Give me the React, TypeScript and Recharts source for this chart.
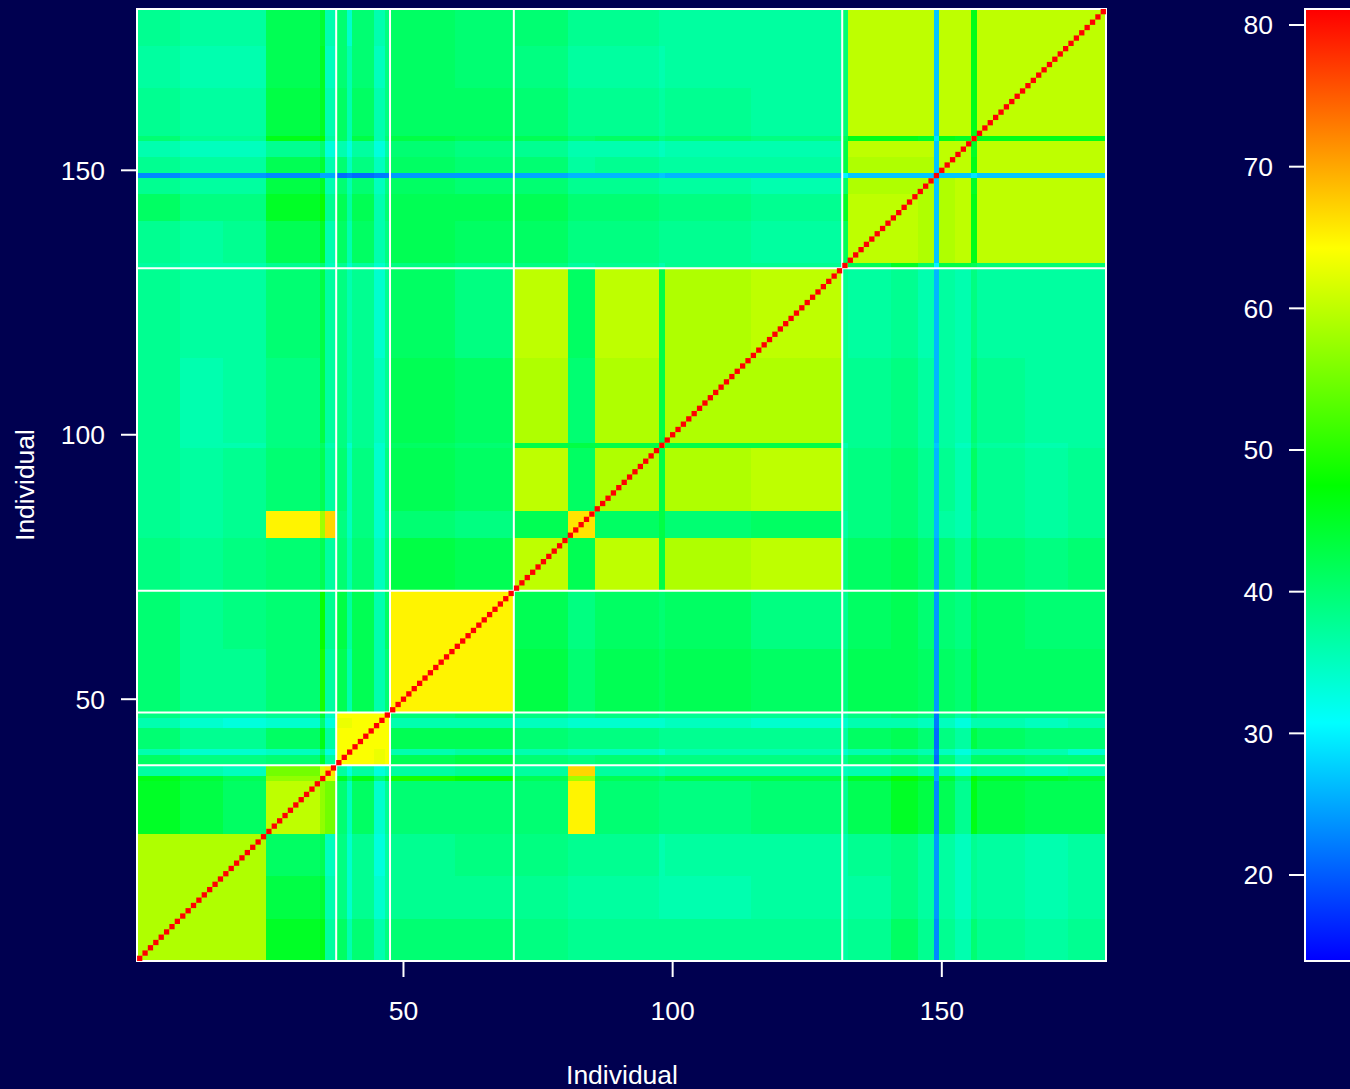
import {
  ReferenceArea,
  ReferenceLine,
  Scatter,
  ScatterChart,
  XAxis,
  YAxis,
  ZAxis,
} from 'recharts';

const BACKGROUND = '#000050';
const FONT = '"Liberation Sans", Arial, sans-serif';

// last individual of each block, split where a stripe is visible in the picture
const blockEnds = [8, 16, 24, 34, 35, 37, 39, 40, 44, 46, 47, 59, 70, 80, 85, 97, 98, 114, 131, 132, 140, 145, 148, 149, 152, 155, 156, 165, 173, 180];

// estimated block values, lower triangle (the matrix is symmetric)
const blockValues = [
  [59],
  [59, 59],
  [59, 59, 59],
  [45, 43, 41, 60],
  [46, 44, 42, 57, 60],
  [37, 36, 35, 55, 62, 66],
  [41, 39, 39, 40, 45, 37, 64],
  [36, 34, 34, 35, 40, 33, 64, 64],
  [40, 38, 38, 41, 46, 37, 64, 64, 64],
  [36, 34, 33, 34, 40, 33, 63, 63, 64, 64],
  [39, 37, 37, 38, 44, 35, 64, 64, 64, 64, 64],
  [40, 38, 38, 40, 49, 37, 42, 36, 42, 36, 40, 65],
  [40, 38, 39, 40, 48, 38, 43, 37, 42, 36, 41, 65, 65],
  [39, 38, 39, 40, 42, 37, 40, 36, 40, 35, 39, 43, 42, 60],
  [38, 37, 38, 65, 58, 67, 39, 35, 39, 34, 38, 40, 39, 42, 66],
  [38, 37, 38, 40, 42, 37, 40, 35, 39, 34, 39, 42, 41, 60, 41, 59],
  [38, 36, 36, 39, 41, 36, 39, 34, 38, 34, 38, 41, 40, 43, 43, 43, 60],
  [38, 36, 37, 39, 43, 37, 39, 36, 38, 35, 38, 42, 41, 59, 40, 59, 43, 59],
  [38, 37, 37, 40, 43, 37, 39, 36, 38, 34, 38, 41, 39, 60, 41, 60, 43, 59, 60],
  [37, 36, 36, 38, 40, 35, 38, 34, 37, 34, 37, 39, 38, 39, 37, 38, 36, 38, 38, 60],
  [38, 37, 38, 42, 45, 36, 41, 36, 41, 36, 39, 42, 41, 41, 39, 39, 38, 38, 37, 42, 60],
  [41, 39, 39, 45, 48, 38, 42, 37, 42, 36, 40, 42, 42, 42, 40, 40, 39, 39, 38, 45, 60, 60],
  [38, 37, 37, 43, 45, 36, 40, 36, 40, 35, 39, 41, 40, 40, 38, 38, 37, 37, 36, 41, 59, 59, 59],
  [23, 24, 24, 23, 25, 25, 21, 22, 21, 22, 22, 24, 24, 25, 26, 26, 27, 26, 26, 30, 27, 27, 27, 28],
  [38, 37, 37, 42, 44, 36, 40, 35, 39, 35, 39, 41, 40, 40, 37, 38, 37, 37, 37, 43, 59, 59, 59, 27, 60],
  [36, 35, 35, 38, 40, 33, 36, 33, 37, 33, 37, 40, 39, 38, 36, 36, 35, 36, 36, 43, 60, 60, 60, 27, 60, 60],
  [40, 38, 38, 46, 48, 37, 41, 36, 43, 36, 40, 43, 42, 42, 40, 41, 39, 40, 39, 42, 46, 46, 45, 29, 46, 45, 60],
  [38, 37, 37, 43, 45, 36, 41, 36, 41, 36, 39, 41, 41, 40, 38, 38, 37, 38, 37, 40, 60, 60, 60, 27, 60, 60, 46, 60],
  [37, 36, 36, 42, 45, 35, 40, 36, 40, 35, 39, 41, 40, 39, 37, 37, 36, 37, 37, 40, 60, 60, 60, 27, 60, 60, 46, 60, 60],
  [38, 37, 37, 42, 44, 36, 40, 34, 40, 36, 39, 41, 40, 40, 38, 38, 37, 37, 37, 40, 60, 60, 60, 27, 60, 60, 46, 60, 60, 60],
];

const individuals = Array.from({ length: 180 }, (_, i) => i + 1);
const groupBreaks = [37.5, 47.5, 70.5, 131.5];
const axisTicks = [50, 100, 150];
const scaleTicks = [20, 30, 40, 50, 60, 70, 80];
const scaleStops = [
  { value: 14, rgb: [0, 0, 255] },
  { value: 30.75, rgb: [0, 255, 255] },
  { value: 47.5, rgb: [0, 255, 0] },
  { value: 64.25, rgb: [255, 255, 0] },
  { value: 81, rgb: [255, 0, 0] },
];

function toRgb(rgb: number[]) {
  return `rgb(${rgb.join(',')})`;
}

function colourFor(v: number) {
  for (let i = 1; i < scaleStops.length; i++) {
    const a = scaleStops[i - 1];
    const b = scaleStops[i];
    if (v <= b.value) {
      const t = (v - a.value) / (b.value - a.value);
      return toRgb(a.rgb.map((c, k) => Math.round(c + (b.rgb[k] - c) * t)));
    }
  }
  return toRgb(scaleStops[scaleStops.length - 1].rgb);
}

function blockValue(i: number, j: number) {
  return i >= j ? blockValues[i][j] : blockValues[j][i];
}

const FONT_SIZE = 26.5;
const tickStyle = { fill: '#fff', fontSize: FONT_SIZE, fontFamily: FONT };
const axisLine = { stroke: '#fff', strokeWidth: 2 };

function AxisTitle({ x, y, angle = 0 }: { x: number; y: number; angle?: number }) {
  return (
    <text
      x={x}
      y={y}
      transform={`rotate(${angle} ${x} ${y})`}
      textAnchor="middle"
      dominantBaseline="central"
      fill="#fff"
      fontSize={FONT_SIZE}
      fontFamily={FONT}
    >
      Individual
    </text>
  );
}

function Heatmap() {
  const diagonal = individuals.map((n) => ({ x: n, y: n, z: 1 }));
  return (
    <ScatterChart width={1350} height={1089} margin={{ top: 9, right: 244, bottom: 0, left: 0 }}>
      <XAxis
        type="number"
        dataKey="x"
        domain={[0.5, 180.5]}
        ticks={axisTicks}
        allowDataOverflow
        height={128}
        tickSize={16}
        tickMargin={24}
        axisLine={false}
        tickLine={axisLine}
        tick={tickStyle}
        label={{ content: () => <AxisTitle x={622} y={1075} /> }}
      />
      <YAxis
        type="number"
        dataKey="y"
        domain={[0.5, 180.5]}
        ticks={axisTicks}
        allowDataOverflow
        width={137}
        tickSize={16}
        tickMargin={16}
        axisLine={false}
        tickLine={axisLine}
        tick={tickStyle}
        label={{ content: () => <AxisTitle x={25} y={485} angle={-90} /> }}
      />
      <ZAxis type="number" dataKey="z" range={[28, 28]} />
      {blockEnds.map((yEnd, i) =>
        blockEnds.map((xEnd, j) => (
          <ReferenceArea
            key={`${i}-${j}`}
            x1={(j === 0 ? 0 : blockEnds[j - 1]) + 0.5}
            x2={xEnd + 0.5}
            y1={(i === 0 ? 0 : blockEnds[i - 1]) + 0.5}
            y2={yEnd + 0.5}
            fill={colourFor(blockValue(i, j))}
            fillOpacity={1}
            stroke="none"
            shapeRendering="crispEdges"
          />
        )),
      )}
      {groupBreaks.map((b) => (
        <ReferenceLine key={`x${b}`} x={b} stroke="#fff" strokeWidth={2} />
      ))}
      {groupBreaks.map((b) => (
        <ReferenceLine key={`y${b}`} y={b} stroke="#fff" strokeWidth={2} />
      ))}
      <ReferenceArea x1={0.5} x2={180.5} y1={0.5} y2={180.5} fill="none" stroke="#fff" strokeWidth={2} />
      <Scatter data={diagonal} fill="#ff0000" shape="square" isAnimationActive={false} />
    </ScatterChart>
  );
}

function ColourKey() {
  const low = 13.93;
  const high = 81.13;
  const keyPoints = scaleTicks.map((v) => ({ x: 0.5, y: v }));
  return (
    <ScatterChart width={180} height={1089} margin={{ top: 9, right: 0, bottom: 128, left: 0 }}>
      <defs>
        <linearGradient id="keyFill" x1="0" y1="1" x2="0" y2="0">
          {scaleStops.map((s) => (
            <stop
              key={s.value}
              offset={`${((s.value - low) / (high - low)) * 100}%`}
              stopColor={toRgb(s.rgb)}
            />
          ))}
        </linearGradient>
      </defs>
      <XAxis type="number" dataKey="x" domain={[0, 1]} allowDataOverflow height={0} tick={false} axisLine={false} tickLine={false} />
      <YAxis
        type="number"
        dataKey="y"
        domain={[low, high]}
        ticks={scaleTicks}
        allowDataOverflow
        width={65}
        tickSize={16}
        tickMargin={16}
        axisLine={false}
        tickLine={axisLine}
        tick={tickStyle}
      />
      <ReferenceArea x1={0} x2={1} y1={low} y2={high} fill="url(#keyFill)" fillOpacity={1} stroke="#fff" strokeWidth={2} ifOverflow="visible" />
      <Scatter data={keyPoints} fill="none" isAnimationActive={false} />
    </ScatterChart>
  );
}

export default function App() {
  return (
    <div
      style={{
        position: 'absolute',
        left: 0,
        top: 0,
        width: 1350,
        height: 1089,
        overflow: 'hidden',
        background: BACKGROUND,
        fontFamily: FONT,
      }}
    >
      <div style={{ position: 'absolute', left: 0, top: 0 }}>
        <Heatmap />
      </div>
      <div style={{ position: 'absolute', left: 1240, top: 0 }}>
        <ColourKey />
      </div>
    </div>
  );
}
